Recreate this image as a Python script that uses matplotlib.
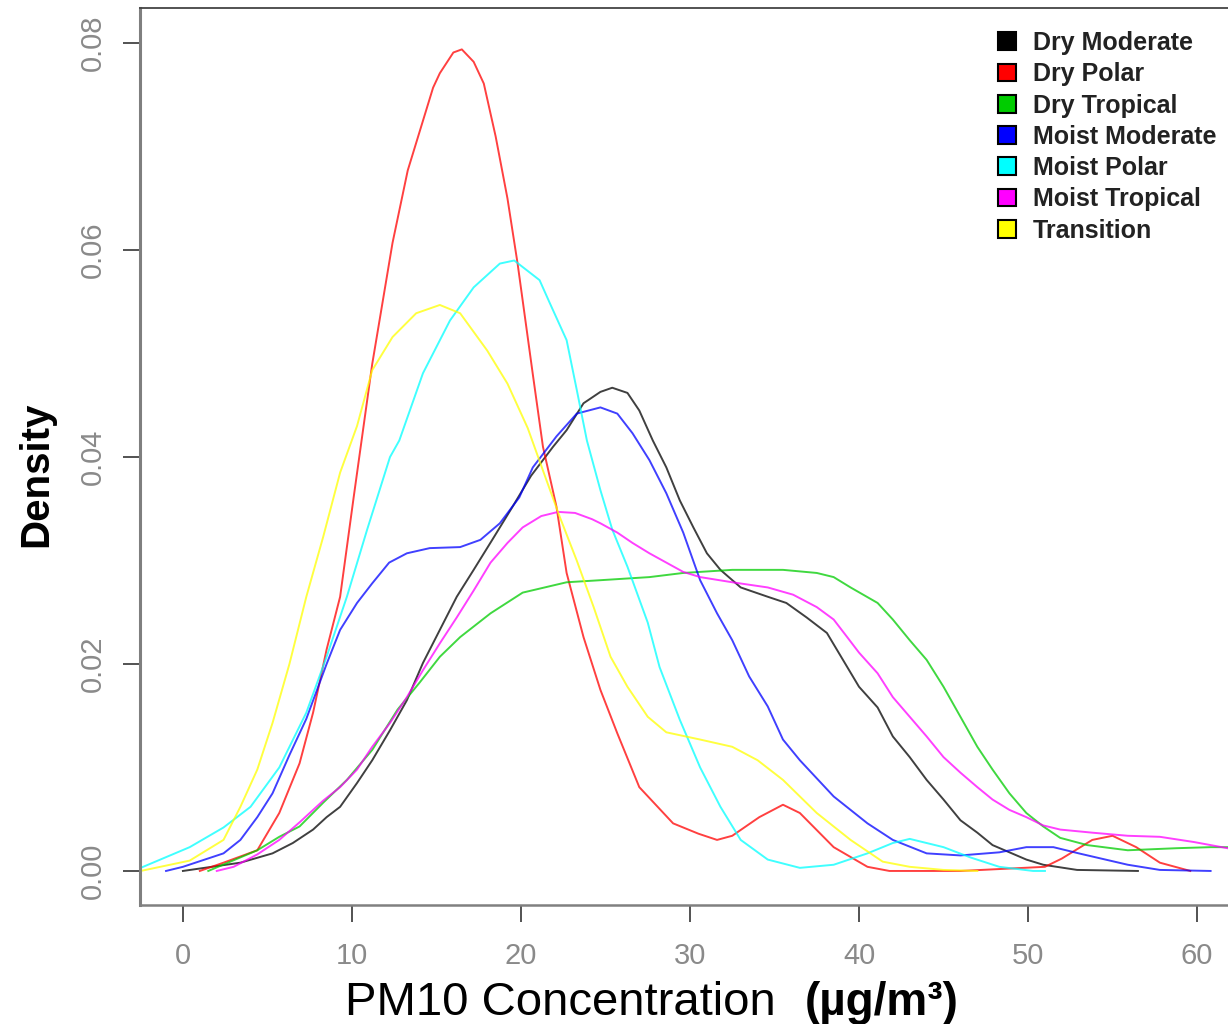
import matplotlib.pyplot as plt
from matplotlib.patches import Patch

# density curves (x = PM10 in ug/m3, y = density)
dry_moderate_x = [0.0, 3.4, 5.3, 6.5, 7.7, 8.5, 9.3, 10.3, 11.2, 12.25, 13.25, 14.2, 15.2, 16.2, 17.2,
                  18.3, 19.5, 20.6, 21.9, 22.7, 23.7, 24.7, 25.4, 26.3, 27.0, 27.8, 28.6, 29.4, 30.2,
                  31.0, 31.8, 33.0, 34.6, 35.7, 36.9, 38.1, 40.0, 41.1, 42.0, 43.0, 44.0, 45.0, 46.0,
                  47.0, 47.9, 48.9, 49.9, 50.9, 52.9, 56.5]
dry_moderate_y = [0.0, 0.0008, 0.0017, 0.0027, 0.004, 0.0052, 0.0062, 0.0085, 0.0107, 0.0136, 0.0165,
                  0.0201, 0.0233, 0.0265, 0.0291, 0.032, 0.0352, 0.0382, 0.041, 0.0426, 0.0452, 0.0463,
                  0.0467, 0.0462, 0.0445, 0.0416, 0.039, 0.0358, 0.0332, 0.0307, 0.0291, 0.0274, 0.0265,
                  0.0259, 0.0245, 0.023, 0.0178, 0.0158, 0.013, 0.011, 0.0088, 0.0069, 0.0049, 0.0037,
                  0.0025, 0.0018, 0.0011, 0.0006, 0.0001, 0.0]

dry_polar_x = [1.0, 2.4, 4.4, 5.7, 6.9, 7.7, 8.5, 9.3, 10.1, 11.2, 12.4, 13.3, 14.8, 15.2, 16.0, 16.5,
               17.2, 17.8, 18.5, 19.2, 19.8, 20.7, 21.3, 22.1, 22.7, 23.7, 24.7, 25.7, 27.0, 29.0, 30.5,
               31.6, 32.5, 34.1, 35.5, 36.5, 38.5, 40.5, 41.8, 46.0, 51.0, 52.0, 53.8, 55.0, 56.4, 57.8,
               59.6]
dry_polar_y = [0.0, 0.0008, 0.002, 0.0056, 0.0104, 0.0153, 0.0214, 0.0265, 0.0361, 0.049, 0.0607, 0.0677,
               0.0757, 0.0771, 0.0791, 0.0794, 0.0782, 0.0761, 0.071, 0.065, 0.0587, 0.048, 0.041, 0.0352,
               0.0288, 0.0226, 0.0175, 0.0133, 0.0081, 0.0046, 0.0036, 0.003, 0.0034, 0.0052, 0.0064,
               0.0056, 0.0023, 0.0004, 0.0, 0.0, 0.0004, 0.0012, 0.003, 0.0034, 0.0023, 0.0008, 0.0]

dry_tropical_x = [1.5, 4.4, 5.7, 6.9, 8.3, 9.7, 11.2, 12.7, 14.0, 15.2, 16.4, 18.2, 20.1, 22.7, 24.7, 27.6,
                  29.6, 32.5, 35.5, 37.5, 38.5, 39.5, 41.1, 42.0, 43.0, 44.0, 45.0, 46.0, 47.0, 47.9, 48.9,
                  49.9, 50.9, 51.9, 53.5, 55.9, 58.8, 60.8, 61.8]
dry_tropical_y = [0.0, 0.002, 0.0033, 0.0043, 0.0066, 0.0088, 0.0117, 0.0156, 0.0182, 0.0207, 0.0226,
                  0.0249, 0.0269, 0.0279, 0.0281, 0.0284, 0.0288, 0.0291, 0.0291, 0.0288, 0.0284, 0.0274,
                  0.0259, 0.0243, 0.0223, 0.0204, 0.0178, 0.0149, 0.012, 0.0098, 0.0075, 0.0056, 0.0043,
                  0.0032, 0.0025, 0.002, 0.0022, 0.0023, 0.0023]

moist_moderate_x = [-1.0, 0.0, 2.4, 3.4, 4.4, 5.3, 6.3, 7.3, 8.5, 9.3, 10.3, 11.2, 12.2, 13.25, 14.6, 16.4,
                    17.6, 18.75, 19.9, 20.7, 22.1, 23.3, 24.7, 25.7, 26.6, 27.6, 28.6, 29.6, 30.6, 31.6,
                    32.5, 33.5, 34.6, 35.5, 36.5, 38.5, 40.5, 42.0, 44.0, 46.0, 48.3, 49.9, 51.5, 53.0,
                    55.9, 57.8, 60.8]
moist_moderate_y = [0.0, 0.0004, 0.0017, 0.003, 0.0052, 0.0075, 0.0112, 0.0147, 0.02, 0.0233, 0.0259,
                    0.0278, 0.0298, 0.0307, 0.0312, 0.0313, 0.032, 0.0336, 0.0361, 0.039, 0.042, 0.0442,
                    0.0448, 0.0442, 0.0423, 0.0397, 0.0365, 0.0327, 0.0281, 0.0249, 0.0223, 0.0188, 0.0159,
                    0.0127, 0.0107, 0.0072, 0.0046, 0.003, 0.0017, 0.0015, 0.0018, 0.0023, 0.0023, 0.0017,
                    0.0006, 0.0001, 0.0]

moist_polar_x = [-2.5, 0.4, 2.4, 4.0, 5.7, 7.3, 8.5, 9.7, 10.9, 12.25, 12.8, 14.2, 15.8, 17.2, 18.75, 19.6,
                 21.1, 21.7, 22.7, 23.3, 23.9, 24.7, 25.4, 26.3, 27.5, 28.2, 29.4, 30.6, 31.8, 33.0, 34.6,
                 36.5, 38.5, 40.5, 42.0, 43.0, 45.0, 46.6, 48.3, 50.3, 51.0]
moist_polar_y = [0.0003, 0.0023, 0.0042, 0.0062, 0.01, 0.0153, 0.0207, 0.0265, 0.033, 0.04, 0.0416, 0.0481,
                 0.0532, 0.0564, 0.0587, 0.059, 0.0571, 0.0549, 0.0513, 0.0465, 0.0416, 0.0368, 0.033,
                 0.0294, 0.024, 0.0197, 0.0146, 0.01, 0.0062, 0.003, 0.0011, 0.0003, 0.0006, 0.0017, 0.0027,
                 0.0031, 0.0023, 0.0013, 0.0004, 0.0, 0.0]

moist_tropical_x = [2.0, 3.0, 4.4, 5.7, 6.9, 8.3, 9.3, 10.3, 11.2, 12.25, 13.25, 14.2, 15.2, 16.2, 17.2,
                    18.2, 19.2, 20.1, 21.2, 22.2, 23.2, 24.2, 24.7, 25.7, 26.6, 27.6, 28.6, 29.6, 30.6,
                    32.5, 34.6, 36.1, 37.5, 38.5, 39.3, 40.0, 41.1, 42.0, 43.0, 44.0, 45.0, 46.0, 47.0,
                    47.9, 48.9, 49.9, 50.9, 51.9, 53.8, 55.9, 57.8, 59.8, 61.8]
moist_tropical_y = [0.0, 0.0004, 0.0016, 0.003, 0.0047, 0.0068, 0.0081, 0.0098, 0.012, 0.0143, 0.0168,
                    0.0194, 0.022, 0.0245, 0.0271, 0.0298, 0.0317, 0.0332, 0.0343, 0.0347, 0.0346, 0.034,
                    0.0336, 0.0327, 0.0317, 0.0307, 0.0298, 0.0289, 0.0284, 0.0279, 0.0274, 0.0267, 0.0255,
                    0.0243, 0.0226, 0.0211, 0.0191, 0.0168, 0.0149, 0.013, 0.011, 0.0095, 0.0081, 0.0069,
                    0.0059, 0.0052, 0.0044, 0.004, 0.0037, 0.0034, 0.0033, 0.0028, 0.0022]

transition_x = [-2.5, 0.4, 2.4, 3.4, 4.4, 5.3, 6.3, 7.3, 8.3, 9.3, 10.3, 11.2, 12.4, 13.8, 15.2, 16.4, 18.0,
                19.2, 20.4, 21.5, 22.3, 23.3, 24.3, 25.3, 26.3, 27.5, 28.6, 30.6, 32.5, 34.0, 35.5, 37.5,
                39.5, 41.4, 43.0, 45.0, 47.0]
transition_y = [0.0, 0.001, 0.003, 0.0062, 0.0098, 0.0143, 0.02, 0.0265, 0.0323, 0.0385, 0.043, 0.0484,
                0.0516, 0.0539, 0.0547, 0.0539, 0.0503, 0.0471, 0.0428, 0.0378, 0.0342, 0.03, 0.0255,
                0.0207, 0.0178, 0.0149, 0.0134, 0.0127, 0.012, 0.0107, 0.0088, 0.0056, 0.003, 0.0009,
                0.0004, 0.0001, 0.0]

labels = ['Dry Moderate', 'Dry Polar', 'Dry Tropical', 'Moist Moderate',
          'Moist Polar', 'Moist Tropical', 'Transition']
colors = ['black', 'red', '#00cc00', 'blue', 'cyan', 'magenta', 'yellow']
xs = [dry_moderate_x, dry_polar_x, dry_tropical_x, moist_moderate_x,
      moist_polar_x, moist_tropical_x, transition_x]
ys = [dry_moderate_y, dry_polar_y, dry_tropical_y, moist_moderate_y,
      moist_polar_y, moist_tropical_y, transition_y]

fig = plt.figure(figsize=(12.28, 10.24), dpi=100)
ax = fig.add_axes([140 / 1228, 1 - 905 / 1024, 1088 / 1228, 897 / 1024])

for x, y, c in zip(xs, ys, colors):
    ax.plot(x, y, color=c, lw=1.4, alpha=0.75)

ax.set_xlim(-2.54, 61.83)
ax.set_ylim(-0.00329, 0.0834)
ax.set_xticks([0, 10, 20, 30, 40, 50, 60])
ax.set_yticks([0.0, 0.02, 0.04, 0.06, 0.08])
ax.set_yticklabels(['0.00', '0.02', '0.04', '0.06', '0.08'], rotation=90, va='center')

for lab in ax.get_xticklabels() + ax.get_yticklabels():
    lab.set_fontfamily('Liberation Sans')
    lab.set_fontsize(21)
ax.tick_params(axis='both', direction='out', length=12, width=1.3, colors='#444444')
ax.tick_params(axis='x', pad=15, labelcolor='#8a8a8a')
ax.tick_params(axis='y', pad=12, labelcolor='#8a8a8a')

ax.spines['right'].set_visible(False)
ax.spines['left'].set_color('#7f7f7f')
ax.spines['left'].set_linewidth(2.2)
ax.spines['bottom'].set_color('#808080')
ax.spines['bottom'].set_linewidth(1.8)
ax.spines['top'].set_color('#444444')
ax.spines['top'].set_linewidth(1.3)

ax.set_ylabel('Density', family='Liberation Sans', fontweight='bold', fontsize=29)
ax.yaxis.set_label_coords(-0.078, 0.48)

fig.text(345 / 1228, 1 - 1015 / 1024, 'PM10 Concentration', family='Liberation Sans',
         fontsize=34, va='baseline', ha='left')
fig.text(805 / 1228, 1 - 1015 / 1024, '(\u00b5g/m\u00b3)', family='Liberation Sans',
         fontweight='bold', fontsize=33, va='baseline', ha='left')

handles = [Patch(facecolor=c, edgecolor='black', linewidth=1.5) for c in colors]
leg = ax.legend(handles, labels, loc='upper left', bbox_to_anchor=(998 / 1228, 1 - 31 / 1024),
                bbox_transform=fig.transFigure, frameon=False, borderpad=0, borderaxespad=0,
                handlelength=0.72, handleheight=0.72, handletextpad=0.68, labelspacing=0.29,
                prop={'family': 'Liberation Sans', 'weight': 'bold', 'size': 18})
for t in leg.get_texts():
    t.set_color('#222222')

fig.savefig('out.png', dpi=100)
